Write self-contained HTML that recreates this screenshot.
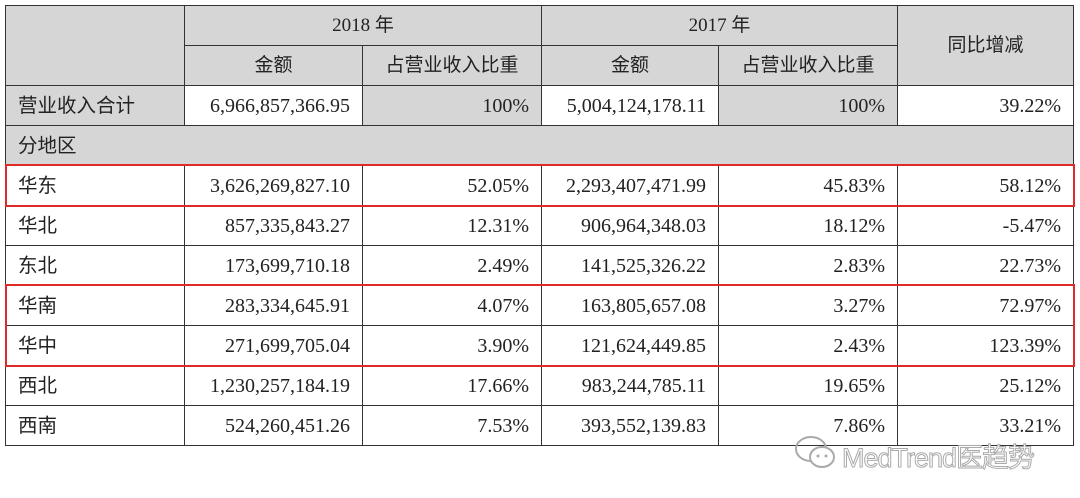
<!DOCTYPE html>
<html><head><meta charset="utf-8"><style>
body{margin:0;width:1080px;height:498px;background:#fff;position:relative;overflow:hidden}
table{position:absolute;left:5px;top:5px;border-collapse:collapse;table-layout:fixed;font-family:"Liberation Serif","Noto Serif CJK SC",serif;font-size:20px;color:#222}
tr{height:40px}
td{border:1.5px solid #333;height:38px;line-height:20px;padding:0 12px;text-align:right;white-space:nowrap;overflow:hidden;box-sizing:border-box}
.g{background:#d6d6d6}
.l{text-align:left;font-family:"Liberation Sans","Noto Sans CJK SC",sans-serif;font-size:19.5px;padding-left:12px}
.c{text-align:center}
.cj{font-family:"Liberation Serif","Noto Sans CJK SC",serif;font-size:19px}
.box{position:absolute;border:2px solid #e02a2a;box-sizing:border-box}
.wm{position:absolute;left:842px;top:436px;font-family:"Liberation Sans","Noto Sans CJK SC",sans-serif;font-size:27px;color:#fff;-webkit-text-stroke:1px #aaa;letter-spacing:-1px}
</style></head><body>
<table>
<colgroup><col style="width:179px"><col style="width:178px"><col style="width:179px"><col style="width:177px"><col style="width:179px"><col style="width:176px"></colgroup>
<tr><td class="g" rowspan="2"></td><td class="g c cj" colspan="2">2018 年</td><td class="g c cj" colspan="2">2017 年</td><td class="g c cj" rowspan="2">同比增减</td></tr>
<tr><td class="g c cj">金额</td><td class="g c cj">占营业收入比重</td><td class="g c cj">金额</td><td class="g c cj">占营业收入比重</td></tr>
<tr><td class="g l">营业收入合计</td><td>6,966,857,366.95</td><td class="g">100%</td><td>5,004,124,178.11</td><td class="g">100%</td><td>39.22%</td></tr>
<tr><td class="g l" colspan="6">分地区</td></tr>
<tr><td class="l">华东</td><td>3,626,269,827.10</td><td>52.05%</td><td>2,293,407,471.99</td><td>45.83%</td><td>58.12%</td></tr>
<tr><td class="l">华北</td><td>857,335,843.27</td><td>12.31%</td><td>906,964,348.03</td><td>18.12%</td><td>-5.47%</td></tr>
<tr><td class="l">东北</td><td>173,699,710.18</td><td>2.49%</td><td>141,525,326.22</td><td>2.83%</td><td>22.73%</td></tr>
<tr><td class="l">华南</td><td>283,334,645.91</td><td>4.07%</td><td>163,805,657.08</td><td>3.27%</td><td>72.97%</td></tr>
<tr><td class="l">华中</td><td>271,699,705.04</td><td>3.90%</td><td>121,624,449.85</td><td>2.43%</td><td>123.39%</td></tr>
<tr><td class="l">西北</td><td>1,230,257,184.19</td><td>17.66%</td><td>983,244,785.11</td><td>19.65%</td><td>25.12%</td></tr>
<tr><td class="l">西南</td><td>524,260,451.26</td><td>7.53%</td><td>393,552,139.83</td><td>7.86%</td><td>33.21%</td></tr>
</table>
<div class="box" style="left:5px;top:164px;width:1070px;height:43px"></div>
<div class="box" style="left:5px;top:284px;width:1070px;height:83px"></div>
<svg style="position:absolute;left:793px;top:432px" width="46" height="40"><ellipse cx="18" cy="17" rx="15" ry="12" fill="none" stroke="#aaa" stroke-width="2"/><ellipse cx="29" cy="25" rx="12" ry="10" fill="#fff" stroke="#aaa" stroke-width="2"/><circle cx="25" cy="24" r="1.5" fill="#aaa"/><circle cx="33" cy="24" r="1.5" fill="#aaa"/></svg>
<div class="wm">MedTrend医趋势</div>
</body></html>
